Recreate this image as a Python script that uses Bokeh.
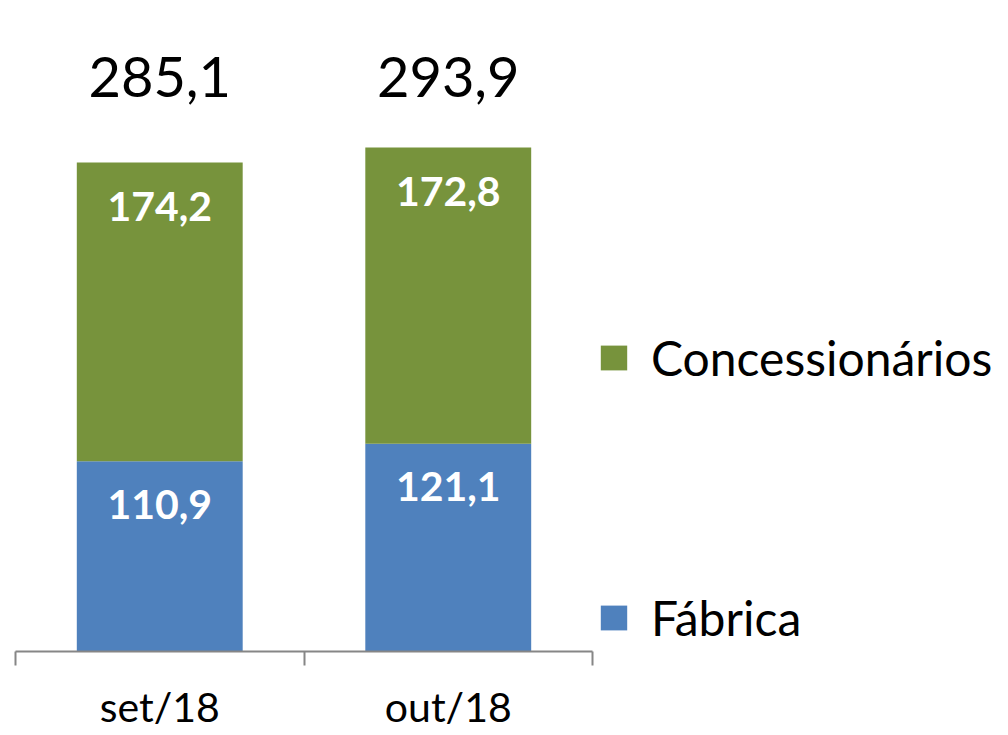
from bokeh.plotting import figure
from bokeh.models import (ColumnDataSource, FixedTicker, Range1d, Legend, LegendItem,
                          LinearAxis, LabelSet)
from bokeh.core.properties import value
from bokeh.embed import file_html
from bokeh.resources import INLINE

# ---- data ----
months = ["set/18", "out/18"]
fabrica = [110.9, 121.1]
concessionarios = [174.2, 172.8]
series_names = ["Fábrica", "Concessionários"]

BLUE = "#4F81BD"
GREEN = "#77933C"
AXIS_GRAY = "#868686"
FONT = "Lato"

def fmt(v):
    return f"{v:.1f}".replace(".", ",")

xs = [i + 0.5 for i in range(len(months))]
totals = [a + b for a, b in zip(fabrica, concessionarios)]

src = ColumnDataSource(dict(
    x=xs,
    fab=fabrica,
    con=concessionarios,
    tot=totals,
    fab_lbl=[fmt(v) for v in fabrica],
    con_lbl=[fmt(v) for v in concessionarios],
    tot_lbl=[fmt(v) for v in totals],
    tot_y=[max(totals)] * len(months),
))

p = figure(frame_width=577, frame_height=651,
           x_range=Range1d(0, len(months)), y_range=Range1d(0, 379.6),
           x_axis_type=None, y_axis_type=None,
           output_backend="svg", toolbar_location=None,
           min_border_left=15, min_border_right=10,
           min_border_top=0, min_border_bottom=0)
p.outline_line_color = None
p.xgrid.visible = False
p.ygrid.visible = False
p.background_fill_color = "white"
p.border_fill_color = "white"

rs = p.vbar_stack(["fab", "con"], x="x", width=0.575, color=[BLUE, GREEN],
                  line_color=None, source=src)

# x axis with boundary ticks
ax = LinearAxis(ticker=FixedTicker(ticks=xs, minor_ticks=list(range(len(months) + 1))))
ax.major_label_overrides = {x: m for x, m in zip(xs, months)}
ax.major_tick_in = 0
ax.major_tick_out = 0
ax.minor_tick_in = 0
ax.minor_tick_out = 14
ax.axis_line_color = AXIS_GRAY
ax.axis_line_width = 2
ax.minor_tick_line_color = AXIS_GRAY
ax.minor_tick_line_width = 2
ax.major_label_text_font = FONT
ax.major_label_text_font_size = "41px"
ax.major_label_text_color = "black"
ax.major_label_text_line_height = 1.0
ax.major_label_standoff = 16
p.add_layout(ax, "below")

# labels inside segments
lab_kw = dict(source=src, text_align="center", text_baseline="middle",
              text_font=value(FONT))
p.add_layout(LabelSet(x="x", y="fab", text="fab_lbl", y_offset=-43,
                      text_color="white", text_font_style="bold",
                      text_font_size="41px", **lab_kw))
p.add_layout(LabelSet(x="x", y="tot", text="con_lbl", y_offset=-44,
                      text_color="white", text_font_style="bold",
                      text_font_size="41px", **lab_kw))
# totals
p.add_layout(LabelSet(x="x", y="tot_y", text="tot_lbl", y_offset=70,
                      text_color="black", text_font_size="56px", **lab_kw))

# legend (right side panel)
legend = Legend(items=[LegendItem(label=series_names[1], renderers=[rs[1]]),
                       LegendItem(label=series_names[0], renderers=[rs[0]])],
                location="bottom_left", orientation="vertical",
                glyph_width=33, glyph_height=31, label_height=31, label_standoff=21,
                spacing=203, padding=0, margin=5,
                border_line_color=None, background_fill_alpha=0,
                label_text_font=FONT, label_text_font_size="48px",
                label_text_color="black")
p.add_layout(legend, "right")

open("out.html", "w").write(file_html(p, INLINE))
